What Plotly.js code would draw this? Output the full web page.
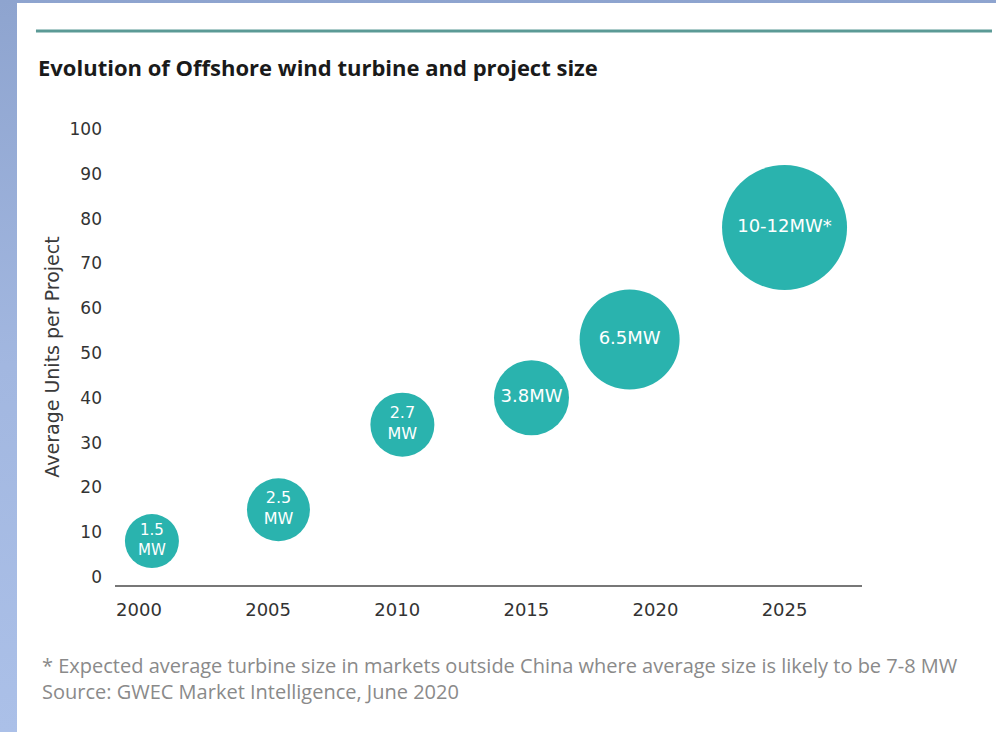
<!DOCTYPE html>
<html>
<head>
<meta charset="utf-8">
<script src="https://cdn.plot.ly/plotly-3.0.1.min.js"></script>
<style>
  html, body { margin: 0; padding: 0; width: 996px; height: 732px; overflow: hidden;
    background: linear-gradient(to bottom, #8ea4cf 0%, #a2b7e0 50%, #abc0e8 100%); }
  #chart { position: absolute; left: 17px; top: 3px; width: 979px; height: 729px; background: #ffffff; }
</style>
</head>
<body>
<div id="chart"></div>
<script>
// ---- data ----
const years = [2000.5, 2005.4, 2010.2, 2015.2, 2019, 2025];
const unitsPerProject = [8, 15, 34, 40, 53, 78];
const bubbleSize = [54, 63, 64, 75, 100, 125];
const turbineLabels = ['1.5<br>MW', '2.5<br>MW', '2.7<br>MW', '3.8MW', '6.5MW', '10-12MW*'];
const labelSizes = [15, 16, 16, 18, 18, 18];
const xTickVals = [2000, 2005, 2010, 2015, 2020, 2025];
const xTickText = ['2000', '2005', '2010', '2015', '2020', '2025'];
const yTickVals = [0, 10, 20, 30, 40, 50, 60, 70, 80, 90, 100];

const chartTitle = 'Evolution of Offshore wind turbine and project size';
const yTitle = 'Average Units per Project';
const footnote = '* Expected average turbine size in markets outside China where average size is likely to be 7-8 MW';
const source = 'Source: GWEC Market Intelligence, June 2020';

const trace = {
  type: 'scatter',
  mode: 'markers+text',
  x: years,
  y: unitsPerProject,
  text: turbineLabels,
  textposition: 'middle center',
  textfont: { family: 'DejaVu Sans', size: labelSizes, color: '#ffffff' },
  marker: { size: bubbleSize, sizemode: 'diameter', color: '#2ab3ae', line: { width: 0 }, opacity: 1 },
  hoverinfo: 'skip',
  cliponaxis: false,
  showlegend: false
};

const layout = {
  width: 979,
  height: 729,
  margin: { l: 98, r: 134, t: 126, b: 147 },
  paper_bgcolor: '#ffffff',
  plot_bgcolor: '#ffffff',
  font: { family: 'DejaVu Sans', color: '#333333' },
  title: {
    text: '<b>' + chartTitle + '</b>',
    font: { family: 'Open Sans', size: 22, color: '#1a1a1a' },
    xref: 'container', x: 21 / 979, xanchor: 'left',
    yref: 'container', y: 1 - 65 / 729, yanchor: 'middle'
  },
  xaxis: {
    range: [1999.07, 2028.0],
    tickvals: xTickVals,
    ticktext: xTickText,
    ticks: '',
    ticklabelstandoff: 7,
    tickfont: { family: 'DejaVu Sans', size: 18, color: '#333333' },
    showgrid: false,
    zeroline: false,
    showline: true,
    linecolor: '#777777',
    linewidth: 2,
    fixedrange: true
  },
  yaxis: {
    range: [-1.8, 100],
    tickvals: yTickVals,
    ticks: '',
    ticklabelstandoff: 12,
    tickfont: { family: 'DejaVu Sans', size: 17, color: '#333333' },
    showgrid: false,
    zeroline: false,
    showline: false,
    title: { text: yTitle, font: { family: 'DejaVu Sans', size: 19, color: '#3a3a3a' }, standoff: 4 },
    fixedrange: true
  },
  shapes: [
    { type: 'line', xref: 'paper', yref: 'paper', x0: -0.1058, x1: 1.174, y0: 1.2149, y1: 1.2149,
      line: { color: '#5b9a96', width: 3 } }
  ],
  annotations: [
    { text: footnote, xref: 'paper', yref: 'paper', x: -0.1004, y: -0.1776, xanchor: 'left', yanchor: 'middle',
      showarrow: false, font: { family: 'Open Sans', size: 20, color: '#8a8a8a' } },
    { text: source, xref: 'paper', yref: 'paper', x: -0.1004, y: -0.2346, xanchor: 'left', yanchor: 'middle',
      showarrow: false, font: { family: 'Open Sans', size: 20, color: '#8a8a8a' } }
  ]
};

Plotly.newPlot('chart', [trace], layout, { displayModeBar: false, staticPlot: true });
</script>
</body>
</html>
